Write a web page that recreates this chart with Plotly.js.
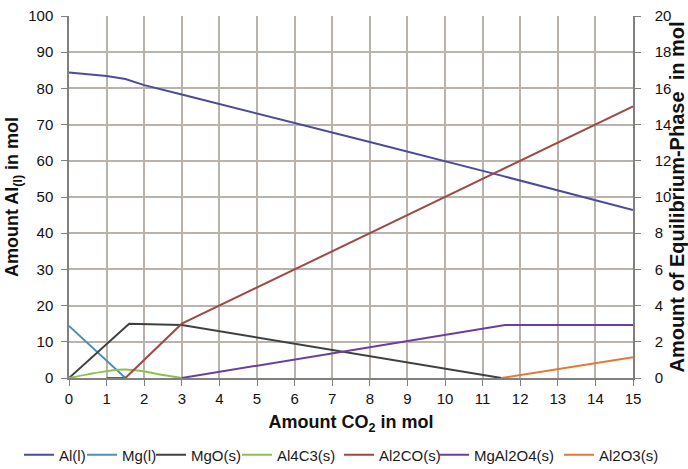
<!DOCTYPE html>
<html>
<head>
<meta charset="utf-8">
<script src="https://cdn.plot.ly/plotly-3.0.1.min.js"></script>
<style>html,body{margin:0;padding:0;background:#fff;}#chart{width:688px;height:469px;}</style>
</head>
<body>
<div id="chart"></div>
<script>
// Data
const alX = [0, 1, 1.5, 2, 3, 5, 8, 11.5, 15];
const alY = [84.4, 83.4, 82.6, 80.9, 78.3, 73.1, 65.2, 55.9, 46.4];

const mgX = [0, 1.5];
const mgY = [2.88, 0];

const mgoX = [0, 1.6, 3, 11.5];
const mgoY = [0, 3.0, 2.93, 0];

const al4c3X = [0, 0.5, 1, 1.5, 2, 2.5, 3];
const al4c3Y = [0, 0.2, 0.38, 0.47, 0.36, 0.16, 0];

const al2coX = [1, 1.5, 3, 15];
const al2coY = [0, 0, 3.0, 15.0];

const mgal2o4X = [3, 11.6, 15];
const mgal2o4Y = [0, 2.93, 2.93];

const al2o3X = [11.5, 15];
const al2o3Y = [0, 1.15];

const names = ['Al(l)', 'Mg(l)', 'MgO(s)', 'Al4C3(s)', 'Al2CO(s)', 'MgAl2O4(s)', 'Al2O3(s)'];
const colors = ['#4b4b9e', '#4a91b5', '#404040', '#8dc050', '#9e4a42', '#6a3d9e', '#e07a35'];

const xs = [alX, mgX, mgoX, al4c3X, al2coX, mgal2o4X, al2o3X];
const ys = [alY, mgY, mgoY, al4c3Y, al2coY, mgal2o4Y, al2o3Y];

// layout: left edge (px) of each legend entry, one legend per entry
const legendLeftPx = [19, 82, 151, 237, 339, 434, 559];

const legendKey = i => (i === 0 ? 'legend' : 'legend' + (i + 1));

const traces = names.map((n, i) => ({
  x: xs[i], y: ys[i], name: n, type: 'scatter', mode: 'lines',
  yaxis: i === 0 ? 'y' : 'y2',
  legend: legendKey(i),
  line: {color: colors[i], width: 2, shape: i === 3 ? 'spline' : 'linear'}
}));

const FAM = 'Liberation Sans, Arial, sans-serif';
const tickFont = {family: FAM, size: 15, color: '#111'};
const titleFont = {family: FAM, size: 18, color: '#111', weight: 'bold'};

const layout = {
  width: 688, height: 469,
  margin: {l: 69, r: 55, t: 16, b: 91},
  paper_bgcolor: '#fff', plot_bgcolor: '#fff',
  showlegend: true,
  xaxis: {
    range: [0, 15], dtick: 1, tick0: 0,
    showgrid: true, gridcolor: '#bab3ab', gridwidth: 1.5,
    showline: true, linecolor: '#808080', linewidth: 1.5,
    ticks: 'outside', ticklen: 6, tickcolor: '#808080', ticklabelstandoff: 0,
    zeroline: false, tickfont: tickFont,
    title: {text: '<b>Amount CO<sub>2</sub> in mol</b>', font: titleFont, standoff: 10}
  },
  yaxis: {
    range: [0, 100], dtick: 10,
    showgrid: true, gridcolor: '#bab3ab', gridwidth: 1.5,
    showline: true, linecolor: '#808080', linewidth: 1.5,
    ticks: 'outside', ticklen: 6, tickcolor: '#808080', ticklabelstandoff: 5,
    zeroline: false, tickfont: tickFont,
    title: {text: '<b>Amount Al<sub>(l)</sub> in mol</b>', font: titleFont, standoff: 5}
  },
  yaxis2: {
    range: [0, 20], dtick: 2, overlaying: 'y', side: 'right',
    showgrid: false,
    showline: true, linecolor: '#808080', linewidth: 1.5,
    ticks: 'outside', ticklen: 6, tickcolor: '#808080', ticklabelstandoff: 11,
    zeroline: false, tickfont: tickFont,
    title: {text: '<b>Amount of Equilibrium-Phase  in mol</b>',
            font: {family: FAM, size: 20, color: '#111', weight: 'bold'}, standoff: 6}
  }
};

names.forEach((n, i) => {
  layout[legendKey(i)] = {
    orientation: 'h', xref: 'container', yref: 'container',
    x: legendLeftPx[i] / 688, xanchor: 'left', y: 0.03, yanchor: 'middle',
    bgcolor: 'rgba(0,0,0,0)',
    font: {family: FAM, size: 15, color: '#1a1a1a'}
  };
});

Plotly.newPlot('chart', traces, layout, {displayModeBar: false, responsive: false});
</script>
</body>
</html>
